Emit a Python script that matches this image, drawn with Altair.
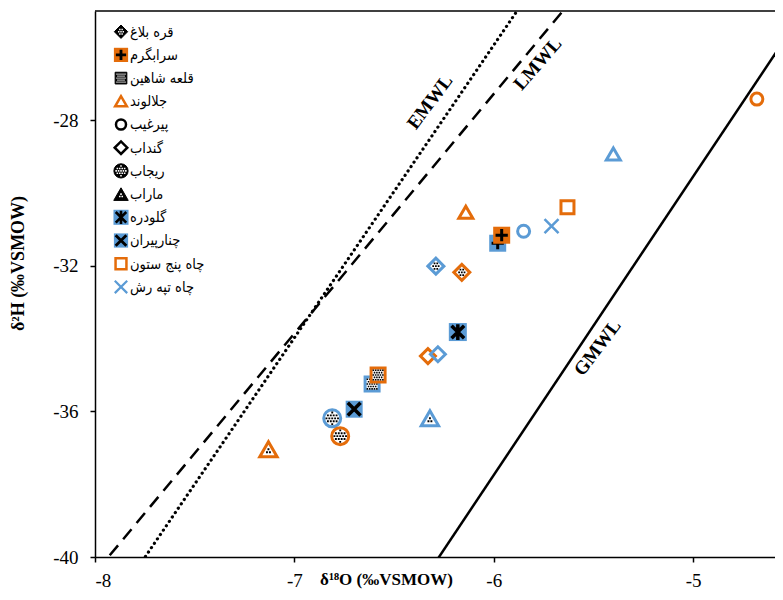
import altair as alt
import pandas as pd

ORANGE = "#E46C0A"
BLUE = "#5B9BD5"

# ---- legend / sites ----
sites = ["قره بلاغ", "سرابگرم", "قلعه شاهین", "جلالوند", "پیرغیب", "گنداب",
         "ریجاب", "ماراب", "گلودره", "چنارپیران", "چاه پنج ستون", "چاه تپه رش"]
site_styles = ["diamond-dots", "square-plus", "square-dots", "triangle-open",
               "circle-open", "diamond-open", "circle-dots", "triangle-dots",
               "square-asterisk", "square-x", "square-open", "x-line"]
legend_colors = ["black", ORANGE, "black", ORANGE, "black", "black",
                 "black", "black", BLUE, BLUE, ORANGE, BLUE]

# ---- data points ----
pt_site = [0, 0, 1, 1, 2, 2, 3, 3, 4, 4, 5, 5, 6, 6, 7, 7, 8, 9, 10, 11]
pt_group = ["blue", "orange", "blue", "orange", "blue", "orange", "orange", "blue",
            "blue", "orange", "orange", "blue", "blue", "orange", "orange", "blue",
            "blue", "blue", "orange", "blue"]
d18O = [-6.29, -6.16, -5.98, -5.96, -6.61, -6.58, -6.14, -5.40, -5.85, -4.68,
        -6.33, -6.28, -6.81, -6.77, -7.13, -6.32, -6.18, -6.70, -5.63, -5.71]
d2H = [-32.01, -32.18, -31.38, -31.16, -35.25, -35.00, -30.53, -28.93, -31.05, -27.42,
       -34.48, -34.43, -36.19, -36.68, -37.04, -36.19, -33.82, -35.94, -30.39, -30.91]

# ---- water lines ----
line_names = ["EMWL", "LMWL", "GMWL"]
line_slope = [8.04, 6.58, 8.2]
line_icpt = [22.3, 12.2, 11.45]
label_x = [-6.32, -5.78, -5.48]
label_y = [-27.5, -26.45, -34.25]
label_angle = [307, 311, 307]

x_ticks = [-8, -7, -6, -5]
y_ticks = [-40, -36, -32, -28]
x_domain = [-8, -4.589]
y_domain = [-40, -25]

COLORS = {"blue": BLUE, "orange": ORANGE}

# ---- marker glyph helpers ----
def inside(kind, x, y, m):
    if kind == "square":
        return abs(x) <= 1 - m and abs(y) <= 1 - m
    if kind == "diamond":
        return abs(x) + abs(y) <= 1 - m * 1.414
    if kind == "circle":
        return x * x + y * y <= (1 - m) ** 2
    if kind == "triangle":
        return (0.866 - y) >= m and ((y + 0.866) - 1.732 * abs(x)) / 2 >= m
    return False


def dot_path(kind, m, s=0.34, d=0.11):
    parts = []
    for j in range(-7, 8):
        for i in range(-7, 8):
            x = i * s + (s / 2 if j % 2 else 0)
            y = j * s
            if inside(kind, x, y, m):
                parts.append(f"M{x-d:.3f},{y-d:.3f}h{2*d:.3f}v{2*d:.3f}h{-2*d:.3f}z")
    return "".join(parts)


PLUS = "M-0.72,0L0.72,0M0,-0.72L0,0.72"
XG = "M-0.75,-0.75L0.75,0.75M-0.75,0.75L0.75,-0.75"
AST = "M-0.7,-0.7L0.7,0.7M-0.7,0.7L0.7,-0.7M0,-0.88L0,0.88"
XFULL = "M-1,-1L1,1M-1,1L1,-1"
BASE = {"diamond": "diamond", "square": "square", "circle": "circle", "triangle": "triangle-up"}


def style_rows(style, c, legend):
    k = 0.7 if legend else 1.0
    sw = 2.5 if legend else 3
    rows = []

    def add(shape, fill, stroke, w, size):
        rows.append(dict(shape=shape, fill=fill, stroke=stroke, sw=w, size=size * k))

    kind, _, deco = style.partition("-")
    if deco == "dots":
        size = {"diamond": 256, "square": 196, "circle": 289, "triangle": 300}[kind]
        if legend:
            add(BASE[kind], "black", "black", 1, size)
            add(dot_path(kind, 0.25), "white", "transparent", 0, size)
        else:
            add(BASE[kind], "white", c, 3, size)
            add(dot_path(kind, 0.3), "black", "transparent", 0, size)
    elif deco == "open":
        size = {"diamond": 225, "square": 169, "circle": 144, "triangle": 196}[kind]
        add(BASE[kind], "transparent", c, sw, size)
    elif deco == "plus":
        add("square", c, c, 0, 289)
        add(PLUS, "transparent", "black", 3 if not legend else 2.8, 289)
    elif deco == "asterisk":
        add("square", c, c, 0, 324)
        add(AST, "transparent", "black", 3.5 if not legend else 2.6, 324)
    elif deco == "x":
        add("square", c, c, 0, 289)
        add(XG, "transparent", "black", 3.5 if not legend else 2.8, 289)
    elif deco == "line":
        add(XFULL, "transparent", c, 2.5 if not legend else 2.2, 196 if not legend else 220)
    return rows


# ---- build tables ----
pt_rows = []
kk = 0
for i in range(len(d18O)):
    for r in style_rows(site_styles[pt_site[i]], COLORS[pt_group[i]], False):
        r.update(x=d18O[i], y=d2H[i], k=kk)
        kk += 1
        pt_rows.append(r)
pts_df = pd.DataFrame(pt_rows)

leg_rows = []
kk = 0
for i, name in enumerate(sites):
    for r in style_rows(site_styles[i], legend_colors[i], True):
        r.update(px=26, py=20.7 + 23.2 * i, k=kk)
        kk += 1
        leg_rows.append(r)
leg_df = pd.DataFrame(leg_rows)
leg_text_df = pd.DataFrame({"name": sites, "py": [21.5 + 23.2 * i for i in range(len(sites))]})

line_rows = []
for n, a, b in zip(line_names, line_slope, line_icpt):
    for xv in (-8.6, -4.0):
        line_rows.append(dict(name=n, x=xv, y=a * xv + b))
lines_df = pd.DataFrame(line_rows)
labels_df = pd.DataFrame({"name": line_names, "x": label_x, "y": label_y, "ang": label_angle})

# ---- scales & axes ----
xs = alt.Scale(domain=x_domain, nice=False, zero=False)
ys = alt.Scale(domain=y_domain, nice=False, zero=False)
common_axis = dict(grid=False, domainColor="black", domainWidth=1.5, tickColor="black",
                   tickWidth=1.5, tickSize=5, labelFont="Liberation Serif", labelFontSize=19,
                   labelColor="black", titleFont="Liberation Serif",
                   titleFontWeight="bold", titleColor="black", labelExpr="datum.value + ''")
xaxis = alt.Axis(values=x_ticks, title="δ¹⁸O (‰VSMOW)", titleX=291, titleY=27,
                 titleFontSize=17, titleAlign="center", titleBaseline="alphabetic",
                 labelPadding=9, **common_axis)
yaxis = alt.Axis(values=y_ticks, title="δ²H (‰VSMOW)", titleX=-77, titleY=252,
                 titleFontSize=18, titleAngle=270, titleAlign="center", titleBaseline="middle",
                 labelPadding=12, **common_axis)


def X():
    return alt.X("x:Q", scale=xs, axis=xaxis)


def Y():
    return alt.Y("y:Q", scale=ys, axis=yaxis)


base_lines = alt.Chart(lines_df)
emwl = base_lines.transform_filter("datum.name == 'EMWL'").mark_line(
    clip=True, color="black", strokeWidth=3.2, strokeDash=[0.1, 5.2], strokeCap="round"
).encode(x=X(), y=Y())
lmwl = base_lines.transform_filter("datum.name == 'LMWL'").mark_line(
    clip=True, color="black", strokeWidth=2.5, strokeDash=[13, 8]
).encode(x=X(), y=Y())
gmwl = base_lines.transform_filter("datum.name == 'GMWL'").mark_line(
    clip=True, color="black", strokeWidth=2.5
).encode(x=X(), y=Y())

top_rule = alt.Chart(pd.DataFrame({"y": [y_domain[1]]})).mark_rule(
    color="black", strokeWidth=1.5).encode(y=Y())

line_labels = alt.Chart(labels_df).mark_text(
    font="Liberation Serif", fontSize=19, fontWeight="bold", color="black",
    align="center", baseline="middle"
).encode(x=X(), y=Y(), text="name:N", angle=alt.Angle("ang:Q", scale=None))

points = alt.Chart(pts_df).mark_point(filled=True, opacity=1, strokeOpacity=1, fillOpacity=1).encode(
    x=X(), y=Y(),
    shape=alt.Shape("shape:N", scale=None),
    fill=alt.Fill("fill:N", scale=None),
    stroke=alt.Stroke("stroke:N", scale=None),
    strokeWidth=alt.StrokeWidth("sw:Q", scale=None),
    size=alt.Size("size:Q", scale=None),
    order=alt.Order("k:Q"),
)

main = alt.layer(emwl, lmwl, gmwl, top_rule, line_labels, points)

legend_marks = alt.Chart(leg_df).mark_point(filled=True, opacity=1, strokeOpacity=1, fillOpacity=1).encode(
    x=alt.X("px:Q", scale=None, axis=None),
    y=alt.Y("py:Q", scale=None, axis=None),
    shape=alt.Shape("shape:N", scale=None),
    fill=alt.Fill("fill:N", scale=None),
    stroke=alt.Stroke("stroke:N", scale=None),
    strokeWidth=alt.StrokeWidth("sw:Q", scale=None),
    size=alt.Size("size:Q", scale=None),
    order=alt.Order("k:Q"),
)
legend_text = alt.Chart(leg_text_df).mark_text(
    align="left", baseline="middle", font="DejaVu Sans Condensed", fontSize=14.5, color="black"
).encode(
    x=alt.value(35),
    y=alt.Y("py:Q", scale=None, axis=None),
    text="name:N",
)
legend = alt.layer(legend_marks, legend_text)

chart = alt.layer(main, legend).resolve_scale(x="independent", y="independent").properties(
    width=680, height=546,
    padding={"left": 87, "top": 3, "right": 0, "bottom": 34},
    autosize="none",
    background="white",
).configure_view(stroke=None)

chart.save("out.html", embed_options={"renderer": "svg", "actions": False})
